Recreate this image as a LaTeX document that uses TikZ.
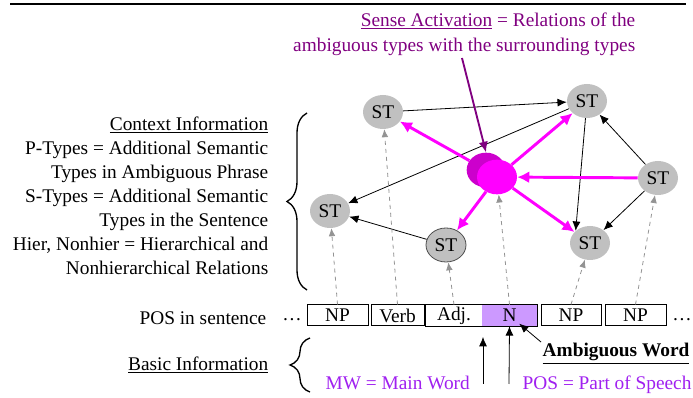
\documentclass[tikz,border=0pt]{standalone}
\usepackage{fontspec}
\setmainfont{Liberation Serif}
\usetikzlibrary{arrows.meta,shapes.geometric,decorations.pathreplacing}

\definecolor{stgray}{RGB}{192,192,192}
\definecolor{senselight}{RGB}{255,0,255}
\definecolor{sensedark}{RGB}{204,0,204}
\definecolor{actpurple}{RGB}{128,0,128}
\definecolor{infoviolet}{RGB}{160,32,240}
\definecolor{nfill}{RGB}{204,153,255}

\begin{document}
\begin{tikzpicture}[x=0.75pt, y=-0.75pt, font=\fontsize{14.5}{18}\selectfont,
    st/.style={ellipse, fill=stgray, minimum width=30pt, minimum height=25.5pt, inner sep=0pt},
    rel/.style={-{Latex[length=7pt,width=6pt]}, line width=0.6pt},
    act/.style={-{Latex[length=9pt,width=9pt]}, line width=2.2pt, senselight},
    posline/.style={-{Latex[length=6pt,width=5pt]}, dashed, gray!85, line width=0.6pt},
    posbox/.style={draw, line width=0.75pt, minimum height=15.75pt, inner sep=0pt},
    infobrace/.style={decorate, decoration={brace, amplitude=15pt}, line width=1pt}]
    \useasboundingbox (0,0) rectangle (693,398);
    \draw[line width=1.5pt] (10,4) -- (686,4);

    \node[align=right, anchor=north east, text=actpurple] (title) at (640,8)
        {\underline{Sense Activation} = Relations of the\\[1pt] ambiguous types with the surrounding types};
    \node[align=right, anchor=east] (context) at (273,196)
        {\underline{Context Information}\\ P-Types = Additional Semantic\\ Types in Ambiguous Phrase\\
         S-Types = Additional Semantic\\ Types in the Sentence\\ Hier, Nonhier = Hierarchical and\\ Nonhierarchical Relations};
    \draw[infobrace] (307,290) -- (307,113);

    \node[ellipse, fill=sensedark, minimum width=29pt, minimum height=26pt] (sensebg) at (486,170) {};
    \node[ellipse, fill=senselight, minimum width=30pt, minimum height=26pt] (sense) at (497,177) {};

    \node[st] (st1) at (383,112) {ST};
    \node[st] (st2) at (587,101) {ST};
    \node[st] (st3) at (330,211) {ST};
    \node[st, draw=black!70, line width=0.6pt] (st4) at (446,245) {ST};
    \node[st] (st5) at (658,178) {ST};
    \node[st] (st6) at (590,243) {ST};

    \draw[rel] (st1) -- (st2);
    \draw[rel] (st2) -- (st3);
    \draw[rel] (st2) -- (st6.north west);
    \draw[rel] (st5) -- (st2);
    \draw[rel] (st5) -- (st6);
    \draw[rel] (st4) -- (st3);

    \draw[act] (sensebg) -- (st1);
    \draw[act] (sense) -- (st2);
    \draw[act] (st5) -- (sense);
    \draw[act] (sense) -- (st4);
    \draw[act] (sense) -- (st6);

    \coordinate (titlefoot) at (462,58);
    \draw[-{Latex[length=8pt,width=7pt]}, line width=1.4pt, actpurple] (titlefoot) -- (sensebg.north);

    \node[anchor=east] (posrow) at (271,318) {POS in sentence};
    \node (dotsl) at (292,320) {\dots};
    \node[posbox, minimum width=45.75pt] (np1) at (337.5,315.5) {NP};
    \node[posbox, minimum width=39.75pt] (verb) at (397.5,315.5) {Verb};
    \node[inner sep=0pt, minimum width=42pt, minimum height=15.75pt] (adj) at (454,315.5) {\raisebox{2pt}{Adj.}};
    \node[fill=nfill, inner sep=0pt, minimum width=41.25pt, minimum height=15.75pt] (n) at (509.5,315.5) {N};
    \draw[line width=0.75pt] (adj.north west) rectangle (n.south east);
    \node[posbox, minimum width=45pt] (np3) at (571,315.5) {NP};
    \node[posbox, minimum width=45.75pt] (np4) at (635.5,315.5) {NP};
    \node (dotsr) at (682,320) {\dots};

    \draw[posline] (np1.north) -- (st3);
    \draw[posline] (verb.north) -- (st1);
    \draw[posline] (adj.north) -- (st4);
    \draw[posline] (n.north) -- (sense);
    \draw[posline] (np3.north) -- (st6);
    \draw[posline] (np4.north) -- (st5);

    \node[anchor=east] (basic) at (273,365) {\underline{Basic Information}};
    \draw[infobrace] (310,392) -- (310,338);
    \node[anchor=base west, text=infoviolet] (mw) at (321,390) {MW = Main Word};
    \node[anchor=base west, text=infoviolet] (pos) at (518,390) {POS = Part of Speech};
    \node[anchor=base west, font=\fontsize{14.5}{18}\selectfont\bfseries] (ambig) at (538,357) {\underline{Ambiguous Word}};

    \coordinate (mwfoot) at (483,384);
    \coordinate (mwtip) at (483,337);
    \coordinate (posfoot) at (509,384);
    \coordinate (ambigfoot) at (541,342);
    \draw[rel] (mwfoot) -- (mwtip);
    \draw[rel] (posfoot) -- (n.south);
    \draw[rel, shorten >=9.5pt] (ambigfoot) -- (n.center);
\end{tikzpicture}
\end{document}
